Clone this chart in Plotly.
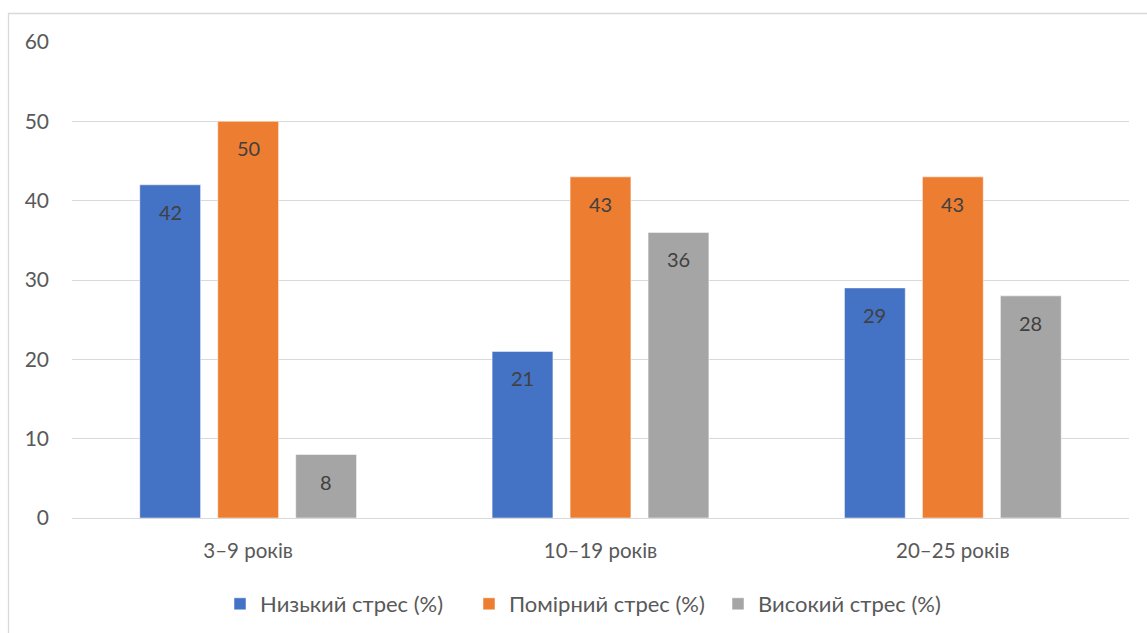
import plotly.graph_objects as go

# Стаж роботи та рівні стресу
categories = ["3–9 років", "10–19 років", "20–25 років"]
low_stress = [42, 21, 29]
moderate_stress = [50, 43, 43]
high_stress = [8, 36, 28]
series_names = ["Низький стрес (%)", "Помірний стрес (%)", "Високий стрес (%)"]
colors = ["#4472C4", "#ED7D31", "#A5A5A5"]

FONT = "Lato, Carlito, 'Open Sans', sans-serif"
TEXT_COLOR = "#595959"
LABEL_COLOR = "#404040"

W, H = 1147, 633
L, R, T, B = 72, 18, 42, 115
pw, ph = W - L - R, H - T - B
BARGAP = 0.336
BARGROUPGAP = 0.22

series = [low_stress, moderate_stress, high_stress]

fig = go.Figure()
for name, vals, col in zip(series_names, series, colors):
    fig.add_trace(go.Bar(
        x=categories,
        y=vals,
        name=name,
        marker=dict(color=col, line=dict(color="white", width=0.5)),
        hoverinfo="x+y+name",
    ))

# value labels placed inside each bar, a little below its top
slot_px = pw / len(categories) * (1 - BARGAP) / len(series)
annotations = []
for i, vals in enumerate(series):
    for cat, v in zip(categories, vals):
        annotations.append(dict(
            x=cat, y=v, xref="x", yref="y",
            text=str(v),
            showarrow=False,
            xshift=(i - 1) * slot_px,
            yshift=-27,
            yanchor="middle",
            xanchor="center",
            font=dict(size=20, color=LABEL_COLOR, family=FONT),
        ))


def px_to_paper_x(px):
    return (px - L) / pw


def px_to_paper_y(py):
    return (H - B - py) / ph


fig.update_layout(
    width=W,
    height=H,
    margin=dict(l=L, r=R, t=T, b=B, autoexpand=False),
    paper_bgcolor="white",
    plot_bgcolor="white",
    barmode="group",
    bargap=BARGAP,
    bargroupgap=BARGROUPGAP,
    font=dict(family=FONT, size=20, color=TEXT_COLOR),
    xaxis=dict(
        showgrid=False,
        showline=False,
        ticks="",
        tickfont=dict(size=20.5, color=TEXT_COLOR),
        ticklabelstandoff=18,
    ),
    yaxis=dict(
        range=[0, 60],
        dtick=10,
        showgrid=True,
        gridcolor="#D9D9D9",
        gridwidth=1.3,
        zeroline=True,
        zerolinecolor="#D9D9D9",
        zerolinewidth=1.3,
        showline=False,
        ticks="",
        tickfont=dict(size=21, color=TEXT_COLOR),
        ticklabelstandoff=22,
    ),
    legend=dict(
        orientation="h",
        x=0.5 - 7 / pw,
        xanchor="center",
        y=px_to_paper_y(604),
        yanchor="middle",
        font=dict(size=22, color=TEXT_COLOR),
        itemwidth=30,
        entrywidth=204,
        entrywidthmode="pixels",
        tracegroupgap=0,
    ),
    annotations=annotations,
    shapes=[
        dict(
            type="rect",
            xref="paper",
            yref="paper",
            x0=px_to_paper_x(8.5),
            x1=px_to_paper_x(1160),
            y0=px_to_paper_y(650),
            y1=px_to_paper_y(13.5),
            line=dict(color="#D9D9D9", width=1.3),
            fillcolor="rgba(0,0,0,0)",
            layer="below",
        )
    ],
)

fig.write_html("out.html")
